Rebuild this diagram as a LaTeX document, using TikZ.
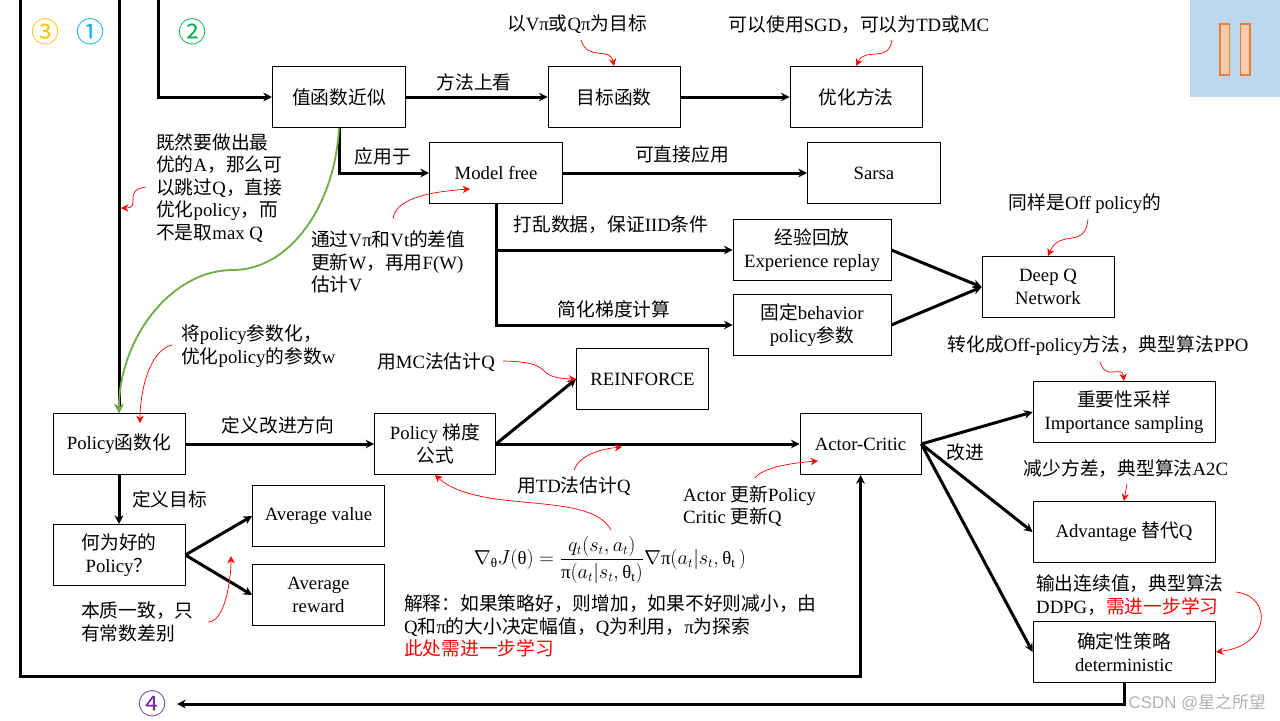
\documentclass[tikz,border=0pt]{standalone}
\usepackage{amsmath}
\usepackage{fontspec}
\setmainfont{Liberation Serif}
\newfontfamily\cjk{Noto Sans CJK SC}
\newfontfamily\wmark{Liberation Sans}
\newcommand{\zh}[1]{{\cjk #1}}
\usepackage{xcolor}
\usepackage{tikz}
\usetikzlibrary{arrows.meta,positioning,calc}
\definecolor{panelblue}{RGB}{189, 215, 238}
\definecolor{barorange}{RGB}{237, 125, 49}
\definecolor{barfill}{RGB}{248, 203, 173}
\definecolor{curvegreen}{RGB}{112, 173, 71}
\definecolor{numyellow}{RGB}{255, 192, 0}
\definecolor{numblue}{RGB}{0, 176, 240}
\definecolor{numgreen}{RGB}{0, 176, 80}
\definecolor{numviolet}{RGB}{112, 48, 160}
\definecolor{markred}{RGB}{255, 0, 0}
\tikzset{
  every node/.style={font=\fontsize{16}{19.2}\selectfont},
  box/.style={draw, line width=0.6pt, minimum width=3.96cm, minimum height=1.84cm, inner sep=0pt, align=center},
  lbl/.style={inner sep=0pt, align=left, yshift=-0.8pt},
  flow/.style={->, line width=0.9mm},
  note/.style={-{Stealth[length=2.2mm,width=2.2mm]}, color=markred, line width=0.6pt},
  numsign/.style={inner sep=0pt, font=\cjk\fontsize{24}{24}\selectfont},
}

\begin{document}
\begin{tikzpicture}[x=0.03cm, y=-0.03cm, >={Stealth[length=2.6mm,width=2.6mm]}]
        \useasboundingbox (0,0) rectangle (1280,720);

        % Pause panel in the corner
        \fill[panelblue] (1190,0) rectangle (1280,97);
        \draw[fill=barfill, draw=barorange, line width=1pt] (1220,24) rectangle (1229.5,75);
        \draw[fill=barfill, draw=barorange, line width=1pt] (1240.5,24) rectangle (1250,75);

        % Route numbers
        \node[numsign, color=numyellow] (numc) at (46,32) {③};
        \node[numsign, color=numblue] (numa) at (91,32) {①};
        \node[numsign, color=numgreen] (numb) at (193,32) {②};
        \node[numsign, color=numviolet] (numd) at (153,704) {④};

        % Top rows
        \node[box, minimum width=4cm] (value) at (339,97) {\zh{值函数近似}};
        \node[box] (target) at (614,97) {\zh{目标函数}};
        \node[box] (optim) at (856,97) {\zh{优化方法}};
        \node[box, minimum width=4cm] (modelfree) at (496,173) {Model free};
        \node[box, minimum width=4cm] (sarsa) at (874,173) {Sarsa};
        \node[box, minimum width=4.74cm] (replay) at (812,250) {\zh{经验回放}\\Experience replay};
        \node[box, minimum width=4.74cm] (behavior) at (812,325) {\zh{固定}behavior\\policy\zh{参数}};
        \node[box] (dqn) at (1048,287) {Deep Q\\Network};

        % Policy rows
        \node[box] (policyf) at (119,444) {Policy\zh{函数化}};
        \node[box, minimum width=3.63cm] (grad) at (435,444) {Policy \zh{梯度}\\\zh{公式}};
        \node[box] (reinforce) at (642.5,379) {REINFORCE};
        \node[box, minimum width=3.63cm] (ac) at (860.5,444) {Actor-Critic};
        \node[box] (good) at (119,555) {\zh{何为好的}\\Policy\zh{？}};
        \node[box] (avgv) at (318.5,516) {Average value};
        \node[box] (avgr) at (318.5,595) {Average\\reward};

        % Right column
        \node[box, minimum width=5.46cm] (imp) at (1124,412) {\zh{重要性采样}\\Importance sampling};
        \node[box, minimum width=5.46cm] (adv) at (1124,532) {Advantage \zh{替代}Q};
        \node[box, minimum width=5.46cm] (det) at (1124,652) {\zh{确定性策略}\\deterministic};

        % Free ends of the long routes
        \coordinate (topc) at (20,0);
        \coordinate (cornerc) at (20,676);
        \coordinate (topa) at (119,0);
        \coordinate (topb) at (158,0);
        \coordinate (endd) at (177,704);

        % Black flow lines
        \draw[flow] (topb) |- (value.west);
        \draw[flow] (topa) -- (policyf.north);
        \draw[flow] (topc) -- (cornerc) -| (ac.south);
        \draw[flow] (det.south) |- (endd);
        \draw[flow] (value.east) -- (target.west);
        \draw[flow] (target.east) -- (optim.west);
        \draw[flow] (value.south) |- (modelfree.west);
        \draw[flow] (modelfree.east) -- (sarsa.west);
        \draw[flow] (modelfree.south) |- (replay.west);
        \draw[flow] (modelfree.south) |- (behavior.west);
        \draw[flow] (replay.east) -- (dqn.west);
        \draw[flow] (behavior.east) -- (dqn.west);
        \draw[flow] (policyf.east) -- (grad.west);
        \draw[flow] (policyf.south) -- (good.north);
        \draw[flow] (good.east) -- (avgv.west);
        \draw[flow] (good.east) -- (avgr.west);
        \draw[flow] (grad.east) -- (reinforce.west);
        \draw[flow] (grad.east) -- (ac.west);
        \draw[flow] (ac.east) -- (imp.west);
        \draw[flow] (ac.east) -- (adv.west);
        \draw[flow] (ac.east) -- (det.west);

        % Green curve from value approximation to policy
        \coordinate (bendg) at (233,270);
        \draw[-{Stealth[length=2.6mm,width=2.6mm]}, color=curvegreen, line width=0.55mm] (value.south) .. controls (335,205) and (290,270) .. (bendg) .. controls (170,270) and (119,340) .. (policyf.north);

        % Plain labels on the flow lines
        \node[lbl] (lblmethod) at (474,81) {\zh{方法上看}};
        \node[lbl] (lblapply) at (383,155) {\zh{应用于}};
        \node[lbl] (lbldirect) at (682,153) {\zh{可直接应用}};
        \node[lbl] (lblshuffle) at (611,224) {\zh{打乱数据，保证}IID\zh{条件}};
        \node[lbl] (lblsimple) at (614,308) {\zh{简化梯度计算}};
        \node[lbl] (lbldirection) at (278,424) {\zh{定义改进方向}};
        \node[lbl, anchor=west] (lblgoal) at (132,498) {\zh{定义目标}};
        \node[lbl] (lblimprove) at (965,451) {\zh{改进}};

        % Notes
        \node[lbl] (txtvpi) at (577,23) {\zh{以}Vπ\zh{或}Qπ\zh{为目标}};
        \node[lbl] (txtsgd) at (859,24) {\zh{可以使用}SGD\zh{，可以为}TD\zh{或}MC};
        \node[lbl, anchor=west] (txtskip) at (156,187) {\zh{既然要做出最}\\\zh{优的}A\zh{，那么可}\\\zh{以跳过}Q\zh{，直接}\\\zh{优化}policy\zh{，而}\\\zh{不是取}max Q};
        \node[lbl, anchor=west] (txtdiff) at (311,261) {\zh{通过}Vπ\zh{和}Vt\zh{的差值}\\\zh{更新}W\zh{，再用}F(W)\\\zh{估计}V};
        \node[lbl] (txtoff) at (1085,203) {\zh{同样是}Off policy\zh{的}};
        \node[lbl] (txtppo) at (1098,345) {\zh{转化成}Off-policy\zh{方法，典型算法}PPO};
        \node[lbl, anchor=west] (txtparam) at (181,345) {\zh{将}policy\zh{参数化，}\\\zh{优化}policy\zh{的参数}w};
        \node[lbl, anchor=west] (txtmc) at (377,361) {\zh{用}MC\zh{法估计}Q};
        \node[lbl] (txttd) at (574,485) {\zh{用}TD\zh{法估计}Q};
        \node[lbl, anchor=west] (txtactor) at (683,505) {Actor \zh{更新}Policy\\Critic \zh{更新}Q};
        \node[lbl] (txta2c) at (1126,468) {\zh{减少方差，典型算法}A2C};
        \node[lbl, anchor=west] (txtddpg) at (1036,594) {\zh{输出连续值，典型算法}\\DDPG\zh{，}\textcolor{markred}{\zh{需进一步学习}}};
        \node[lbl, anchor=west] (txtconst) at (81,621) {\zh{本质一致，只}\\\zh{有常数差别}};
        \node[lbl] (formula) at (610,559) {$\displaystyle \nabla_{\text{θ}}J(\text{θ})=\frac{q_t(s_t,a_t)}{\text{π}(a_t|s_t,\text{θ}_{\mathrm{t}})}\nabla\text{π}(a_t|s_t,\text{θ}_{\mathrm{t}}\,)$};
        \node[lbl, anchor=west] (txtexplain) at (404,625) {\zh{解释：如果策略好，则增加，如果不好则减小，由}\\Q\zh{和}π\zh{的大小决定幅值，}Q\zh{为利用，}π\zh{为探索}\\\textcolor{markred}{\zh{此处需进一步学习}}};
        \node[lbl, anchor=east, color=black!30, font=\wmark\fontsize{14.4}{16}\selectfont] (wmk) at (1266,702) {CSDN @\zh{星之所望}};

        % Red note arrows, start and end points
        \coordinate (skipa) at (146,187);
        \coordinate (skipb) at (121,208);
        \coordinate (diffa) at (393,219);
        \coordinate (diffb) at (470,189);
        \coordinate (vpia) at (581,40);
        \coordinate (sgda) at (892,40);
        \coordinate (offa) at (1088,219);
        \coordinate (ppoa) at (1100,362);
        \coordinate (parama) at (172,345);
        \coordinate (paramb) at (140,423);
        \coordinate (mca) at (503,361);
        \coordinate (tda) at (574,470);
        \coordinate (tdb) at (622,447);
        \coordinate (forma) at (611,530);
        \coordinate (actora) at (755,478);
        \coordinate (actorb) at (818,461);
        \coordinate (consta) at (208,622);
        \coordinate (constb) at (231,556);
        \coordinate (a2ca) at (1127,484);
        \coordinate (ddpga) at (1236,592);
        \coordinate (ddpgb) at (1216,652);

        \draw[note] (skipa) .. controls (122,190) and (142,208) .. (skipb);
        \draw[note] (diffa) .. controls (395,200) and (425,192) .. (diffb);
        \draw[note] (vpia) .. controls (588,62) and (610,46) .. (target.north);
        \draw[note] (sgda) .. controls (888,64) and (866,46) .. (optim.north);
        \draw[note] (offa) .. controls (1085,250) and (1060,228) .. (dqn.north);
        \draw[note] (ppoa) .. controls (1106,382) and (1122,364) .. (imp.north);
        \draw[note] (parama) .. controls (150,350) and (140,390) .. (paramb);
        \draw[note] (mca) .. controls (560,362) and (530,378) .. (reinforce.west);
        \draw[note] (tda) .. controls (580,455) and (600,449) .. (tdb);
        \draw[note] (forma) .. controls (590,490) and (480,515) .. (grad.south);
        \draw[note] (actora) .. controls (762,468) and (790,463) .. (actorb);
        \draw[note] (consta) .. controls (225,622) and (231,580) .. (constb);
        \draw[note] (a2ca) -- (adv.north);
        \draw[note] (ddpga) .. controls (1272,596) and (1272,645) .. (ddpgb);
\end{tikzpicture}
\end{document}
